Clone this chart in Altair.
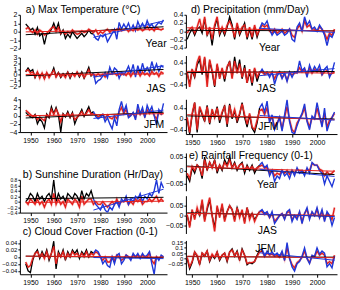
import altair as alt
import pandas as pd

YEARS = list(range(1948, 2008))
SPLIT = 1977  # observations drawn black up to here, blue afterwards

# a) Max temperature anomalies (deg C)
ta_year_obs = [0.9, 0.6, 0.2, 0.4, -0.3, 0.5, -0.5, -0.2, -1.5, -0.3,
               -0.2, 0.3, 1.0, 0.2, 1.0, -0.3, 0.2, -0.8, -0.3, -0.7,
               0.0, -0.4, -0.8, -0.5, -0.2, -0.6, -0.3, 0.2, -0.2, -0.3,
               -0.8, -1.0, -0.4, -0.6, -0.3, -1.2, -0.7, -0.2, 0.3, -0.9,
               1.1, 0.3, 0.9, 0.4, 1.0, 0.2, 0.8, 0.1, 1.2, 0.5,
               1.0, 0.4, 1.3, 0.6, 0.9, 0.4, 0.8, 1.1, 0.9, 1.4]
ta_year_mod = [0.3, 0.5, 0.1, -0.1, 0.2, -0.3, 0.2, 0.0, -0.4, -0.2,
               0.1, 0.4, 0.6, 0.0, 0.5, -0.2, 0.1, -0.3, 0.0, -0.2,
               0.2, -0.1, -0.3, -0.2, 0.1, -0.1, 0.0, 0.3, 0.1, -0.1,
               0.2, -0.3, 0.0, -0.2, 0.1, 0.3, -0.1, 0.2, 0.0, 0.3,
               0.4, 0.1, 0.2, 0.4, 0.0, 0.3, 0.1, 0.5, 0.2, 0.4,
               0.1, 0.3, 0.6, 0.2, 0.4, 0.1, 0.5, 0.3, 0.2, 0.4]
ta_jas_obs = [0.5, 1.2, 0.6, 0.9, -0.5, 0.4, -0.3, 0.2, -0.6, 0.3,
              -0.2, 0.1, 1.2, -0.3, 0.4, -0.5, 0.2, -0.2, 0.5, -0.6,
              0.3, -0.1, 0.4, -0.4, 0.5, -0.6, 0.3, 1.3, -0.2, 0.3,
              -1.5, -1.0, -0.8, -0.2, 0.4, -0.5, 1.3, 0.2, 1.2, 0.8,
              -0.6, 0.4, 0.0, 0.6, 1.5, 0.3, 1.8, -0.4, 1.6, 0.2,
              2.0, 0.5, 1.3, 0.4, 2.3, 0.8, 1.9, 0.6, 1.6, 1.3]
ta_jas_mod = [0.6, 0.9, 0.3, 0.5, -0.4, 0.5, -0.6, 0.3, -0.7, 0.4,
              -0.5, 0.2, 0.8, -0.4, 0.3, -0.3, 0.1, -0.5, 0.4, -0.4,
              0.2, -0.3, 0.5, -0.2, 0.3, -0.5, 0.1, 0.9, -0.1, 0.1,
              -0.3, 0.2, -0.2, 0.1, -0.4, 0.3, 0.1, 0.2, 0.4, -0.1,
              0.3, 0.0, 0.2, -0.1, 0.5, -0.3, 0.4, 0.1, 0.6, -0.2,
              0.5, 0.0, 0.3, -0.2, 0.6, 0.1, 0.4, -0.3, 0.5, 0.2]
ta_jfm_obs = [0.8, 0.2, -0.3, -0.5, 0.3, -2.0, -0.8, -1.5, -3.0, 0.4,
              -0.5, 2.2, 0.5, 2.0, 0.2, -4.0, 0.5, -0.3, 1.0, -0.5,
              0.8, -2.0, -0.5, 0.3, 1.5, -0.2, 1.0, 2.2, 0.5, 1.0,
              -0.2, -0.8, -0.4, 0.3, -1.5, -0.5, -2.0, -3.2, -0.6, -2.5,
              1.5, 3.5, 1.0, 2.5, -0.5, 0.0, 0.8, -1.0, 2.8, 0.5,
              2.0, -0.5, 2.5, 1.0, 2.2, 0.0, -2.3, 1.5, 0.5, 3.0]
ta_jfm_mod = [1.3, 0.8, 0.3, -0.2, 0.1, -1.0, -0.3, -0.8, -1.2, 0.2,
              -0.3, 1.5, 0.3, 1.6, 0.4, -1.5, 0.3, -0.2, 0.6, -0.3,
              0.5, -1.0, -0.4, 0.2, 1.0, 0.0, 0.6, 1.5, 0.4, 0.5,
              0.2, -0.4, 0.1, 0.3, -0.6, 0.2, -0.5, -0.8, 0.0, -0.7,
              0.9, 2.0, 0.5, 1.5, -0.2, 0.2, 0.5, -0.5, 1.5, 0.3,
              1.2, -0.2, 1.4, 0.5, 1.2, 0.1, -0.8, 0.8, 0.3, 0.6]

# b) Sunshine duration anomalies (hr/day)
sun_obs = [0.0, 0.1, 0.3, 0.2, 0.0, 0.3, 0.1, 0.2, 0.0, 0.2,
           0.3, 0.1, 0.8, 0.0, 0.3, 0.1, 0.2, 0.0, 0.3, 0.2,
           0.1, 0.3, 0.2, 0.0, 0.4, 0.1, 0.3, 0.2, 0.4, 0.1,
           -0.1, -0.2, -0.3, -0.1, -0.3, -0.4, -0.2, -0.3, -0.1, 0.0,
           -0.2, 0.1, 0.0, 0.2, -0.1, 0.1, 0.0, 0.2, 0.1, 0.3,
           0.0, 0.2, 0.1, 0.3, 0.2, 0.4, 0.8, 0.3, 0.7, 0.5]
sun_mod = [0.0, -0.1, 0.1, 0.0, -0.1, 0.1, -0.1, 0.0, -0.2, 0.0,
           0.1, -0.1, 0.3, -0.1, 0.1, -0.1, 0.0, -0.2, 0.1, 0.0,
           -0.1, 0.1, 0.0, -0.2, 0.2, -0.1, 0.0, 0.1, 0.1, -0.1,
           0.0, -0.1, -0.1, 0.0, -0.1, -0.2, -0.1, 0.0, -0.1, 0.1,
           -0.1, 0.0, 0.0, 0.1, -0.1, 0.0, -0.1, 0.1, 0.0, 0.1,
           -0.1, 0.0, 0.0, 0.1, 0.0, 0.1, 0.2, 0.0, 0.1, 0.0]

# c) Cloud cover fraction anomalies
cloud_obs = [-0.02, -0.04, -0.045, -0.01, 0.01, 0.02, -0.005, 0.015, 0.0, 0.02,
             -0.01, 0.01, 0.045, -0.035, 0.015, 0.0, 0.02, -0.01, 0.015, 0.0,
             0.02, 0.01, 0.02, -0.005, 0.015, 0.005, 0.02, 0.0, 0.015, 0.01,
             0.02, 0.015, 0.0, -0.02, -0.01, -0.025, -0.03, 0.0, -0.02, 0.005,
             0.01, -0.02, -0.01, 0.005, 0.0, -0.01, 0.01, 0.0, 0.01, -0.005,
             0.01, 0.0, 0.005, 0.015, -0.02, -0.05, 0.0, -0.01, 0.005, 0.0]
cloud_mod = [-0.015, -0.03, -0.025, -0.005, 0.01, 0.015, 0.0, 0.01, -0.005, 0.015,
             -0.005, 0.01, 0.03, -0.02, 0.01, 0.0, 0.015, -0.005, 0.01, 0.0,
             0.015, 0.005, 0.01, 0.0, 0.01, 0.0, 0.015, 0.0, 0.01, 0.005,
             0.015, 0.01, 0.0, -0.01, 0.0, -0.015, -0.015, 0.0, -0.01, 0.005,
             0.0, -0.01, -0.005, 0.005, 0.0, -0.005, 0.005, 0.0, 0.005, 0.0,
             0.005, 0.0, 0.0, 0.01, -0.01, -0.02, 0.0, -0.005, 0.0, 0.0]

# d) Precipitation anomalies (mm/day)
pr_year_obs = [-0.2, -0.05, 0.05, -0.1, 0.05, 0.1, -0.05, 0.3, -0.1, 0.05,
               -0.35, 0.1, 0.3, -0.1, 0.05, -0.1, 0.1, 0.35, 0.15, -0.2,
               0.15, -0.1, 0.05, 0.2, -0.2, 0.05, -0.2, 0.1, -0.15, 0.05,
               0.2, 0.15, 0.25, 0.05, -0.1, 0.0, -0.1, -0.05, 0.0, -0.1,
               -0.05, 0.05, -0.2, -0.25, 0.1, 0.2, 0.0, 0.35, 0.15, 0.25,
               0.05, 0.1, 0.0, 0.15, 0.05, -0.1, -0.35, -0.1, -0.15, 0.0]
pr_year_mod = [-0.05, 0.05, 0.1, -0.05, 0.1, 0.3, 0.0, 0.35, -0.1, 0.1,
               -0.2, 0.15, 0.35, -0.05, 0.1, -0.05, 0.15, 0.25, 0.1, -0.15,
               0.2, -0.05, 0.1, 0.15, -0.15, 0.1, -0.15, 0.15, -0.1, 0.05,
               0.15, 0.1, 0.15, 0.0, -0.05, 0.05, -0.05, 0.0, 0.05, -0.05,
               0.0, 0.05, -0.1, -0.15, 0.05, 0.15, 0.0, 0.25, 0.1, 0.15,
               0.05, 0.05, 0.0, 0.1, 0.05, -0.05, -0.2, -0.05, -0.1, 0.05]
pr_jas_obs = [0.0, -0.4, 0.1, -0.15, 0.3, 0.5, -0.05, 0.55, -0.3, 0.45,
              0.05, -0.5, 0.3, -0.15, 0.15, -0.3, 0.2, 0.45, -0.15, 0.6,
              0.05, 0.5, -0.2, 0.3, -0.35, 0.05, -0.45, 0.15, -0.3, 0.0,
              0.15, 0.0, 0.05, -0.15, 0.05, -0.4, -0.1, 0.05, -0.2, 0.0,
              -0.3, 0.05, -0.15, 0.05, 0.0, 0.45, 0.1, 0.2, -0.15, 0.3,
              0.05, 0.25, 0.1, 0.3, -0.05, 0.15, 0.25, -0.15, 0.05, 0.4]
pr_jas_mod = [0.05, -0.5, 0.15, -0.1, 0.4, 0.65, 0.0, 0.6, -0.5, 0.5,
              0.1, -0.45, 0.35, -0.2, 0.2, -0.2, 0.25, 0.4, -0.2, 0.45,
              0.0, 0.35, -0.15, 0.2, -0.35, 0.15, -0.35, 0.2, -0.15, 0.05,
              0.05, -0.05, 0.0, -0.05, 0.0, -0.2, 0.0, 0.05, -0.15, 0.0,
              -0.25, 0.0, -0.05, 0.0, 0.05, 0.2, 0.05, 0.15, -0.05, 0.2,
              0.0, 0.15, 0.05, 0.15, -0.05, 0.05, 0.1, -0.05, 0.0, 0.05]
pr_jfm_obs = [0.0, -0.55, 0.15, 0.6, -0.5, 0.4, 0.15, -0.1, 0.5, -0.2,
              0.3, 0.05, 0.45, -0.15, 0.2, 0.5, -0.3, 0.55, 0.0, 0.3,
              -0.15, 0.15, 0.6, 0.05, -0.3, 0.15, -0.35, -0.5, -0.15, 0.4,
              0.55, 0.25, 0.65, -0.15, 0.15, -0.4, -0.2, 0.05, -0.45, 0.15,
              0.7, -0.1, -0.5, -0.55, -0.25, 0.0, 0.2, 0.55, -0.1, -0.4,
              0.1, 0.0, 0.6, 0.15, -0.3, 0.4, -0.45, -0.15, 0.05, 0.25]
pr_jfm_mod = [0.05, -0.5, 0.2, 0.6, -0.4, 0.45, 0.2, -0.05, 0.45, -0.15,
              0.35, 0.05, 0.4, -0.05, 0.25, 0.45, -0.2, 0.5, 0.05, 0.35,
              -0.05, 0.2, 0.55, 0.15, -0.2, 0.2, -0.3, -0.4, -0.05, 0.3,
              0.35, 0.15, 0.4, -0.05, 0.05, -0.3, -0.15, 0.05, -0.35, 0.05,
              0.45, -0.05, -0.4, -0.5, -0.15, 0.0, 0.15, 0.4, -0.05, -0.3,
              0.05, 0.0, 0.4, 0.05, -0.2, 0.2, -0.3, -0.05, 0.05, 0.2]

# e) Rainfall frequency anomalies
rf_year_obs = [-0.02, -0.04, 0.01, -0.01, 0.02, 0.01, -0.03, 0.05, 0.0, 0.03,
               0.01, 0.04, -0.01, 0.02, 0.0, 0.04, 0.02, 0.05, 0.01, 0.03,
               0.0, 0.02, 0.03, -0.01, 0.02, 0.0, 0.02, -0.01, 0.01, 0.02,
               0.03, 0.01, 0.02, -0.02, 0.0, -0.04, -0.02, -0.03, 0.0, -0.02,
               -0.01, -0.03, 0.0, -0.02, 0.01, -0.01, 0.0, -0.02, 0.01, -0.01,
               0.03, 0.02, 0.02, 0.0, -0.01, -0.05, -0.02, -0.04, -0.06, -0.03]
rf_year_mod = [-0.01, -0.03, 0.015, 0.0, 0.02, 0.01, -0.02, 0.04, 0.005, 0.03,
               0.01, 0.035, 0.0, 0.02, 0.005, 0.03, 0.015, 0.04, 0.01, 0.025,
               0.005, 0.02, 0.025, 0.0, 0.015, 0.005, 0.015, 0.0, 0.01, 0.015,
               0.02, 0.01, 0.01, -0.01, 0.0, -0.02, -0.01, -0.015, 0.0, -0.01,
               0.0, -0.015, 0.0, -0.01, 0.005, 0.0, 0.0, -0.01, 0.005, 0.0,
               0.025, 0.02, 0.02, 0.005, 0.0, -0.02, -0.005, -0.015, -0.01, 0.0]
rf_jas_obs = [0.0, -0.05, 0.02, -0.01, 0.03, 0.0, 0.07, -0.02, 0.03, 0.08,
              0.0, -0.06, 0.04, 0.0, 0.05, -0.02, 0.02, 0.05, 0.03, -0.02,
              0.04, 0.0, 0.02, -0.03, 0.04, -0.01, 0.01, -0.02, 0.0, 0.02,
              0.03, 0.01, 0.02, -0.01, 0.02, -0.04, -0.02, 0.0, 0.01, -0.02,
              0.02, 0.03, -0.03, 0.0, -0.02, 0.02, -0.04, 0.01, 0.04, -0.02,
              0.02, 0.0, 0.04, -0.01, 0.03, -0.03, 0.02, 0.0, -0.05, -0.01]
rf_jas_mod = [0.005, -0.06, 0.03, -0.02, 0.04, 0.0, 0.08, -0.03, 0.04, 0.09,
              0.0, -0.08, 0.05, -0.01, 0.06, -0.03, 0.02, 0.05, 0.03, -0.03,
              0.04, -0.01, 0.03, -0.04, 0.04, -0.02, 0.01, -0.03, 0.0, 0.02,
              0.02, 0.005, 0.015, -0.01, 0.01, -0.03, -0.015, 0.0, 0.01, -0.015,
              0.015, 0.02, -0.02, 0.0, -0.01, 0.015, -0.03, 0.01, 0.03, -0.01,
              0.015, 0.0, 0.03, -0.01, 0.02, -0.02, 0.01, 0.0, -0.02, 0.04]
rf_jfm_obs = [0.0, -0.1, -0.04, 0.06, 0.02, -0.06, 0.05, 0.02, 0.07, -0.03,
              0.03, 0.0, 0.06, -0.02, 0.03, 0.05, -0.03, 0.06, 0.09, 0.02,
              0.07, -0.02, 0.09, 0.03, -0.06, -0.04, -0.05, -0.03, 0.03, 0.08,
              0.09, 0.02, 0.07, 0.04, 0.06, 0.03, 0.05, 0.02, 0.07, -0.02,
              0.15, 0.0, -0.08, -0.12, -0.05, -0.03, 0.02, 0.1, 0.0, -0.05,
              0.03, 0.02, 0.1, 0.04, 0.07, 0.05, -0.08, -0.05, -0.09, 0.02]
rf_jfm_mod = [0.01, -0.08, -0.03, 0.06, 0.03, -0.05, 0.05, 0.03, 0.07, -0.02,
              0.04, 0.01, 0.06, -0.01, 0.03, 0.05, -0.02, 0.06, 0.08, 0.03,
              0.06, -0.01, 0.08, 0.03, -0.05, -0.04, -0.04, -0.03, 0.02, 0.06,
              0.07, 0.02, 0.05, 0.03, 0.04, 0.02, 0.03, 0.01, 0.05, -0.01,
              0.1, 0.0, -0.06, -0.09, -0.04, -0.02, 0.01, 0.07, 0.0, -0.04,
              0.02, 0.01, 0.07, 0.03, 0.05, 0.03, -0.05, -0.03, -0.05, 0.03]

RED = "#e3201c"
BLUE = "#1f37d8"
FONT = "Liberation Sans"
DECADES = [1950, 1960, 1970, 1980, 1990, 2000]
LEFT_W, RIGHT_W = 148, 152
LEFT_X = [1945.5, 2008.5]
RIGHT_X = [1947.5, 2008.0]


def note(text, x, y, size=10.5, align="center"):
    return alt.Chart(pd.DataFrame({"t": [text]})).mark_text(
        font=FONT, fontSize=size, align=align, baseline="middle", color="black"
    ).encode(x=alt.value(x), y=alt.value(y), text="t:N")


def gap(h, w):
    return alt.Chart(pd.DataFrame({"s": [0]})).mark_point(
        opacity=0, size=1
    ).encode(x=alt.value(0), y=alt.value(0)).properties(width=w, height=h)


def panel(obs, mod, ydom, yticks, height, width, xdom, tag, tag_xy,
          title=None, title_xy=None, xaxis=False, ylab=7):
    df = pd.DataFrame({"year": YEARS, "obs": obs, "mod": mod})
    base = alt.Chart(df)
    xaxis_def = alt.Axis(values=DECADES, format="d", labelFontSize=7, tickSize=3,
                         labelPadding=1, labelFlush=False, labelOverlap=False) if xaxis else None
    x = alt.X("year:Q", title=None, axis=xaxis_def,
              scale=alt.Scale(domain=xdom, nice=False, zero=False))
    yscale = alt.Scale(domain=ydom, nice=False, zero=False)
    yaxis = alt.Axis(values=yticks, format="~g", labelFontSize=ylab, tickSize=2,
                     labelPadding=1, labelOverlap=False, labelFlush=False)

    def y(field):
        return alt.Y(field + ":Q", title=None, scale=yscale, axis=yaxis)

    early_f = f"datum.year <= {SPLIT}"
    late_f = f"datum.year >= {SPLIT}"
    halo = base.mark_line(color=RED, strokeWidth=2.6, opacity=0.2, clip=True).encode(x=x, y=y("mod"))
    early = base.transform_filter(early_f).mark_line(
        color="black", strokeWidth=1.3, clip=True).encode(x=x, y=y("obs"))
    model = base.mark_line(color=RED, strokeWidth=1.4, clip=True).encode(x=x, y=y("mod"))
    late = base.transform_filter(late_f).mark_line(
        color=BLUE, strokeWidth=1.4, clip=True).encode(x=x, y=y("obs"))
    fit_all = base.transform_regression("year", "obs").mark_line(
        color="black", strokeWidth=1, clip=True).encode(x=x, y=y("obs"))
    fit_mod = base.transform_regression("year", "mod").mark_line(
        color=RED, strokeWidth=1, clip=True).encode(x=x, y=y("mod"))
    fit_late = base.transform_filter(late_f).transform_regression("year", "obs").mark_line(
        color=BLUE, strokeWidth=1, clip=True).encode(x=x, y=y("obs"))
    layers = [halo, early, model, late, fit_all, fit_mod, fit_late, note(tag, *tag_xy)]
    if title:
        layers.append(note(title, *title_xy, align="left"))
    return alt.layer(*layers).properties(width=width, height=height)


a1 = panel(ta_year_obs, ta_year_mod, [-2, 2], [-2, -1, 0, 1, 2], 34, LEFT_W, LEFT_X,
           "Year", (137, 29), "a) Max Temperature (°C)", (6, -5))
a2 = panel(ta_jas_obs, ta_jas_mod, [-2, 3], [-2, -1, 0, 1, 2, 3], 29, LEFT_W, LEFT_X,
           "JAS", (137, 32))
a3 = panel(ta_jfm_obs, ta_jfm_mod, [-4, 4], [-4, -2, 0, 2, 4], 33, LEFT_W, LEFT_X,
           "JFM", (135, 26), xaxis=True)
b = panel(sun_obs, sun_mod, [-0.4, 0.8], [-0.4, -0.2, 0, 0.2, 0.4, 0.6, 0.8], 33, LEFT_W, LEFT_X,
          "", (0, 0), "b) Sunshine Duration (Hr/Day)", (3, -5), xaxis=True, ylab=5)
c = panel(cloud_obs, cloud_mod, [-0.05, 0.05], [-0.04, -0.02, 0, 0.02, 0.04], 35, LEFT_W, LEFT_X,
          "", (0, 0), "c) Cloud Cover Fraction (0-1)", (3, -7), xaxis=True, ylab=6)

d1 = panel(pr_year_obs, pr_year_mod, [-0.4, 0.4], [-0.4, -0.2, 0, 0.2, 0.4], 33, RIGHT_W, RIGHT_X,
           "Year", (84, 33), "d) Precipitation (mm/Day)", (5, -5))
d2 = panel(pr_jas_obs, pr_jas_mod, [-0.55, 0.65], [-0.4, 0, 0.4], 33, RIGHT_W, RIGHT_X,
           "JAS", (81, 34))
d3 = panel(pr_jfm_obs, pr_jfm_mod, [-0.56, 0.72], [-0.4, 0, 0.4], 35, RIGHT_W, RIGHT_X,
           "JFM", (83, 28), xaxis=True)
e1 = panel(rf_year_obs, rf_year_mod, [-0.075, 0.065], [-0.05, 0, 0.05], 38, RIGHT_W, RIGHT_X,
           "Year", (82, 32), "e) Rainfall Frequency (0-1)", (3, 3))
e2 = panel(rf_jas_obs, rf_jas_mod, [-0.09, 0.1], [-0.05, 0, 0.05], 38, RIGHT_W, RIGHT_X,
           "JAS", (82, 36))
e3 = panel(rf_jfm_obs, rf_jfm_mod, [-0.15, 0.17], [-0.05, 0, 0.05, 0.1, 0.15], 34, RIGHT_W, RIGHT_X,
           "JFM", (80, 9), xaxis=True, ylab=6)

left = alt.vconcat(a1, gap(9, LEFT_W), a2, gap(13, LEFT_W), a3, gap(48, LEFT_W), b,
                   gap(27, LEFT_W), c, spacing=0, bounds="flush")
right = alt.vconcat(d1, gap(8, RIGHT_W), d2, gap(11, RIGHT_W), d3, gap(19, RIGHT_W), e1,
                    gap(5, RIGHT_W), e2, gap(7, RIGHT_W), e3, spacing=0, bounds="flush")

chart = alt.hconcat(left, right, spacing=-2).properties(
    padding={"left": 1, "top": 4, "right": 3, "bottom": 4},
    background="white",
).configure_view(stroke=None).configure_axis(
    grid=False, domainColor="black", tickColor="black", labelColor="black",
    labelFont=FONT, domainWidth=1, tickWidth=1,
)

chart.save("out.html", embed_options={"renderer": "svg", "actions": False})
